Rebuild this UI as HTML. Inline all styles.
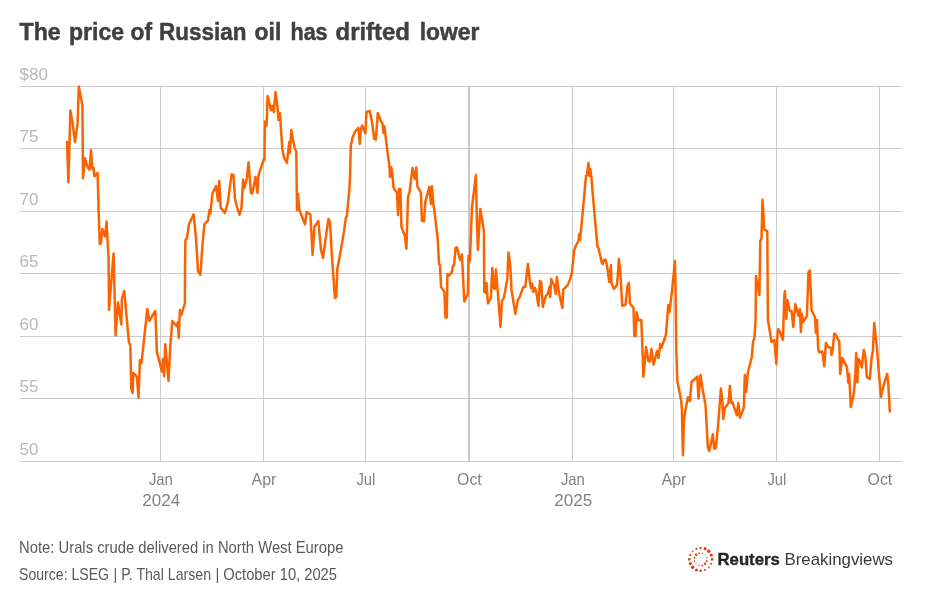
<!DOCTYPE html>
<html lang="en"><head><meta charset="utf-8"><title>The price of Russian oil has drifted lower</title>
<style>
html,body{margin:0;padding:0;background:#fff;}
body{width:926px;height:601px;overflow:hidden;position:relative;font-family:"Liberation Sans",sans-serif;}
svg{position:absolute;left:0;top:0;display:block}
text{font-family:"Liberation Sans",sans-serif;}
.t{font-weight:700;font-size:24.4px;fill:#404040;stroke:#404040;stroke-width:0.5px;}
.yl{font-size:17px;fill:#b8b8b8;}
.xl{font-size:16.5px;fill:#828282;text-anchor:middle;}
.ft{font-size:16.2px;fill:#595959;}
.g{stroke:#cccccc;stroke-width:1;shape-rendering:crispEdges;}
</style></head><body>
<svg width="926" height="601" viewBox="0 0 926 601">
<rect width="926" height="601" fill="#ffffff"/>
<text class="t" y="40"><tspan x="19.6" textLength="41" lengthAdjust="spacingAndGlyphs">The</tspan> <tspan x="69" textLength="55.0" lengthAdjust="spacingAndGlyphs">price</tspan> <tspan x="130.5" textLength="21.5" lengthAdjust="spacingAndGlyphs">of</tspan> <tspan x="159" textLength="87.4" lengthAdjust="spacingAndGlyphs">Russian</tspan> <tspan x="254.6" textLength="26.7" lengthAdjust="spacingAndGlyphs">oil</tspan> <tspan x="290.5" textLength="37.1" lengthAdjust="spacingAndGlyphs">has</tspan> <tspan x="335.5" textLength="74.5" lengthAdjust="spacingAndGlyphs">drifted</tspan> <tspan x="419.7" textLength="59.6" lengthAdjust="spacingAndGlyphs">lower</tspan></text>

<line class="g" x1="20" x2="902" y1="86.5" y2="86.5"/>
<text class="yl" x="19.6" y="80.0">$80</text>
<line class="g" x1="20" x2="902" y1="148.5" y2="148.5"/>
<text class="yl" x="19.6" y="142.0">75</text>
<line class="g" x1="20" x2="902" y1="211.5" y2="211.5"/>
<text class="yl" x="19.6" y="205.0">70</text>
<line class="g" x1="20" x2="902" y1="273.5" y2="273.5"/>
<text class="yl" x="19.6" y="267.0">65</text>
<line class="g" x1="20" x2="902" y1="336.5" y2="336.5"/>
<text class="yl" x="19.6" y="330.0">60</text>
<line class="g" x1="20" x2="902" y1="398.5" y2="398.5"/>
<text class="yl" x="19.6" y="392.0">55</text>
<line class="g" x1="20" x2="902" y1="461.5" y2="461.5"/>
<text class="yl" x="19.6" y="455.0">50</text>
<line class="g" x1="160.5" x2="160.5" y1="86" y2="462"/>
<text class="xl" x="160.9" y="484.8" textLength="23.9" lengthAdjust="spacingAndGlyphs">Jan</text>
<line class="g" x1="263.5" x2="263.5" y1="86" y2="462"/>
<text class="xl" x="263.9" y="484.8" textLength="24.8" lengthAdjust="spacingAndGlyphs">Apr</text>
<line class="g" x1="365.5" x2="365.5" y1="86" y2="462"/>
<text class="xl" x="365.9" y="484.8" textLength="18.9" lengthAdjust="spacingAndGlyphs">Jul</text>
<line x1="469" x2="469" y1="86" y2="462" stroke="#c8c8c8" stroke-width="2" shape-rendering="crispEdges"/>
<text class="xl" x="469.4" y="484.8" textLength="24.7" lengthAdjust="spacingAndGlyphs">Oct</text>
<line class="g" x1="572.5" x2="572.5" y1="86" y2="462"/>
<text class="xl" x="572.9" y="484.8" textLength="23.9" lengthAdjust="spacingAndGlyphs">Jan</text>
<line class="g" x1="673.5" x2="673.5" y1="86" y2="462"/>
<text class="xl" x="673.9" y="484.8" textLength="24.8" lengthAdjust="spacingAndGlyphs">Apr</text>
<line class="g" x1="776.5" x2="776.5" y1="86" y2="462"/>
<text class="xl" x="776.9" y="484.8" textLength="18.9" lengthAdjust="spacingAndGlyphs">Jul</text>
<line class="g" x1="879.5" x2="879.5" y1="86" y2="462"/>
<text class="xl" x="879.9" y="484.8" textLength="24.7" lengthAdjust="spacingAndGlyphs">Oct</text>
<text class="xl" x="161.2" y="505.8" textLength="37.9" lengthAdjust="spacingAndGlyphs">2024</text>
<text class="xl" x="573.2" y="505.8" textLength="37.9" lengthAdjust="spacingAndGlyphs">2025</text>
<polyline points="67.0,141.9 68.4,182.3 70.4,110.4 72.6,122.9 75.0,142.3 77.6,122.9 78.8,86.4 82.4,105.0 83.0,178.3 85.0,158.3 86.6,163.9 88.0,167.9 89.6,169.5 91.0,150.3 92.4,168.9 93.6,167.9 94.4,176.3 97.6,172.9 98.6,210.0 99.8,244.3 101.0,242.9 102.4,229.0 105.0,236.3 106.6,221.6 107.4,237.9 108.6,257.9 109.0,310.0 109.6,302.0 113.6,253.6 115.6,335.5 118.0,302.4 121.3,324.4 121.9,299.0 124.3,291.0 128.9,342.3 130.3,344.9 131.3,388.9 132.7,392.9 133.3,372.9 136.9,376.9 138.5,397.9 139.9,360.3 141.5,362.9 147.3,309.0 149.3,321.0 155.3,311.0 156.9,351.9 161.9,371.5 162.9,358.9 164.1,376.3 165.3,344.3 168.5,380.9 170.3,346.3 172.3,321.0 176.9,326.4 177.9,322.0 178.7,337.9 179.9,310.0 181.3,315.0 184.9,303.0 185.0,269.9 185.4,240.3 187.0,237.9 189.0,224.3 193.6,214.3 196.0,237.9 198.0,271.4 200.4,274.8 202.4,245.9 204.4,224.3 208.0,220.3 209.4,209.9 210.4,213.5 212.4,193.5 216.0,186.0 218.0,200.9 219.2,181.0 220.7,207.9 224.9,212.9 227.9,202.3 231.5,174.4 233.5,175.0 234.9,197.9 236.9,206.9 239.5,214.9 241.5,207.9 243.1,179.6 244.3,188.0 246.9,178.0 248.5,162.4 250.9,192.9 252.3,193.5 255.5,177.0 257.5,192.9 258.3,176.0 263.9,159.0 264.4,159.9 265.0,121.5 266.6,125.5 267.6,96.0 270.0,106.0 270.9,110.0 272.3,106.0 273.9,112.0 275.5,92.0 277.5,107.0 278.5,120.0 279.9,113.0 282.3,148.9 283.9,156.9 286.9,162.9 289.3,141.9 289.9,152.9 291.3,129.9 294.3,146.9 296.3,151.9 297.0,210.0 298.0,194.0 299.4,210.0 305.0,224.4 306.6,212.0 310.4,214.4 312.6,254.9 314.4,227.0 318.4,221.0 321.0,249.9 323.0,257.9 328.4,219.0 330.0,222.0 331.9,255.9 334.9,297.9 336.3,296.9 337.3,268.9 340.9,249.9 343.9,231.9 345.9,217.6 346.9,216.0 349.3,190.0 349.9,179.9 350.8,145.9 352.4,137.9 354.8,131.9 358.4,127.9 359.8,143.9 360.8,129.9 362.2,125.5 365.4,133.5 366.4,112.0 369.8,111.0 372.2,122.9 374.2,138.9 375.8,139.5 377.8,113.0 381.2,121.9 382.4,122.9 383.4,132.9 384.4,126.3 387.0,147.9 389.6,167.9 390.0,176.9 391.0,166.9 392.0,170.9 393.6,187.9 397.0,192.9 398.0,214.9 399.0,188.9 400.4,188.9 401.4,226.8 405.0,236.2 406.4,248.8 408.0,196.9 409.6,191.9 412.5,167.9 414.9,178.9 416.3,167.5 417.3,186.3 420.9,192.3 421.9,220.8 423.9,221.4 425.3,201.9 429.3,186.9 430.9,203.9 431.9,186.3 433.5,205.9 434.2,209.0 437.8,239.9 439.0,264.0 440.0,265.0 441.0,286.9 444.4,291.9 445.4,317.5 446.8,317.5 447.4,274.3 449.0,275.5 451.6,272.9 453.0,265.6 454.0,265.6 455.6,248.0 457.0,247.4 459.4,258.0 460.5,260.0 461.9,254.4 464.3,301.5 467.9,293.9 468.5,256.0 469.9,261.0 471.9,208.0 475.9,175.1 476.9,220.0 477.9,250.0 480.3,209.0 483.9,231.0 484.3,291.9 485.5,292.9 486.5,282.9 487.9,303.5 490.9,297.9 492.3,268.0 493.9,287.9 494.9,288.9 495.9,269.6 498.3,297.9 500.5,326.9 501.9,300.9 503.9,297.9 507.3,278.9 508.5,252.4 510.3,266.0 511.5,289.9 515.3,313.9 517.9,299.9 519.3,297.9 523.3,286.9 525.3,286.9 527.9,264.0 529.9,282.3 531.1,287.9 531.9,283.5 533.3,291.9 534.9,287.9 536.3,292.3 538.5,305.9 539.9,280.9 541.2,281.9 542.8,306.9 545.8,295.9 547.8,293.9 549.8,286.3 550.2,296.9 551.2,278.9 554.2,285.5 555.8,293.9 556.8,276.9 559.2,293.9 562.4,307.9 563.2,289.9 567.8,284.9 570.2,278.9 571.8,272.9 574.2,250.0 575.8,246.0 578.4,241.0 579.2,234.0 580.0,239.9 581.6,223.9 584.0,197.9 586.0,176.0 587.0,175.0 588.4,163.0 589.4,176.0 590.3,169.0 591.5,178.0 592.9,195.9 595.5,224.9 597.5,246.9 598.5,248.0 601.9,263.0 602.9,264.0 603.9,260.0 605.5,259.6 606.9,265.0 609.3,282.0 610.9,265.0 611.5,283.0 613.9,289.0 616.9,285.0 617.9,274.0 618.9,259.0 620.3,272.0 622.3,305.9 625.5,304.9 627.3,287.0 628.9,283.0 629.9,303.5 633.5,307.9 634.3,335.9 635.5,336.3 636.7,312.3 638.3,320.3 641.3,319.9 642.3,345.9 643.4,376.6 644.6,365.0 646.0,347.0 648.4,361.0 650.0,361.4 651.4,349.0 653.6,364.4 657.0,351.0 658.4,358.0 660.3,344.0 661.3,348.0 665.9,335.0 668.3,305.0 669.5,312.0 672.3,288.1 674.9,261.1 675.5,286.1 676.3,350.0 677.3,381.0 680.9,398.9 681.9,408.9 682.9,455.3 683.9,420.9 685.3,410.9 687.9,397.3 689.9,400.9 691.5,382.0 697.3,376.6 698.5,398.5 700.5,375.0 702.9,390.9 705.5,404.9 707.9,447.9 709.3,450.9 712.9,434.3 714.3,448.9 715.9,447.9 718.3,422.9 720.9,388.5 722.3,399.9 723.3,418.9 724.9,407.9 728.5,402.9 729.9,385.9 731.3,402.9 732.3,401.9 736.9,415.3 738.3,402.9 739.9,417.7 743.8,407.9 744.8,375.0 746.2,391.9 747.8,373.0 751.8,357.0 753.0,341.9 754.4,337.9 755.6,320.0 756.0,276.0 759.4,295.0 760.3,241.1 761.5,238.1 762.5,199.7 764.3,229.7 767.3,231.1 767.9,320.0 769.9,331.9 771.5,341.9 774.3,339.9 776.3,363.9 777.3,336.9 778.3,329.0 779.9,331.9 782.9,339.9 784.3,296.0 784.9,291.0 786.3,319.0 787.3,300.0 789.9,311.0 791.5,311.0 793.3,327.0 795.3,304.0 796.9,310.0 798.5,316.0 799.9,309.0 800.9,331.9 801.9,314.0 803.3,322.0 806.9,316.0 808.5,272.0 809.9,270.4 811.5,310.0 814.9,317.0 815.9,332.9 816.9,320.0 818.3,349.9 819.3,352.3 822.3,351.5 824.3,366.3 825.9,342.9 827.9,346.9 830.9,347.9 831.5,354.9 832.9,347.9 834.3,333.5 835.9,334.9 839.3,341.9 840.2,373.9 842.2,357.9 843.8,360.9 846.8,366.9 848.4,382.9 849.2,373.9 850.8,406.9 853.8,393.9 855.4,373.9 856.2,352.9 857.4,382.3 858.2,358.9 859.8,360.9 861.8,367.5 863.8,349.9 865.4,356.9 866.8,376.9 869.8,378.9 871.8,355.9 872.8,351.9 874.2,323.0 876.9,347.9 879.3,377.9 880.9,396.9 882.9,387.9 884.9,380.9 887.2,373.9 888.4,385.9 889.8,411.4" fill="none" stroke="#fa6400" stroke-width="2.5" stroke-linejoin="round" stroke-linecap="round"/>
<text class="ft" x="19.1" y="553" textLength="324.3" lengthAdjust="spacingAndGlyphs">Note: Urals crude delivered in North West Europe</text>
<text class="ft" y="580.3"><tspan x="19.1" textLength="89.9" lengthAdjust="spacingAndGlyphs">Source: LSEG</tspan> <tspan x="113.6" textLength="97.4" lengthAdjust="spacingAndGlyphs">| P. Thal Larsen</tspan> <tspan x="215.4" textLength="121.6" lengthAdjust="spacingAndGlyphs">| October 10, 2025</tspan></text>
<g fill="#d9440d">
<circle cx="700.63" cy="547.98" r="1.20"/>
<circle cx="705.09" cy="548.65" r="1.60"/>
<circle cx="708.75" cy="551.31" r="1.80"/>
<circle cx="711.27" cy="555.10" r="1.60"/>
<circle cx="712.07" cy="559.43" r="1.33"/>
<circle cx="711.14" cy="563.75" r="1.06"/>
<circle cx="708.81" cy="567.41" r="0.86"/>
<circle cx="704.95" cy="569.94" r="1.06"/>
<circle cx="700.63" cy="570.81" r="1.26"/>
<circle cx="696.44" cy="569.94" r="1.53"/>
<circle cx="692.65" cy="567.28" r="1.73"/>
<circle cx="690.32" cy="563.62" r="1.53"/>
<circle cx="689.32" cy="559.43" r="1.33"/>
<circle cx="690.12" cy="555.10" r="1.06"/>
<circle cx="692.65" cy="551.31" r="0.86"/>
<circle cx="696.44" cy="548.85" r="1.06"/>
<circle cx="702.43" cy="553.17" r="0.73"/>
<circle cx="705.15" cy="554.77" r="0.53"/>
<circle cx="706.82" cy="557.70" r="0.73"/>
<circle cx="706.82" cy="561.16" r="1.00"/>
<circle cx="705.09" cy="563.75" r="1.20"/>
<circle cx="702.29" cy="565.62" r="1.00"/>
<circle cx="698.97" cy="565.48" r="0.73"/>
<circle cx="696.17" cy="563.82" r="0.53"/>
<circle cx="694.51" cy="561.16" r="0.73"/>
<circle cx="694.51" cy="557.76" r="1.00"/>
<circle cx="696.17" cy="554.77" r="1.20"/>
<circle cx="699.10" cy="553.31" r="0.93"/>
</g>
<text x="717.5" y="565.4" textLength="62.3" lengthAdjust="spacingAndGlyphs" style="font-weight:700;font-size:16.7px;fill:#262626;stroke:#262626;stroke-width:0.35px">Reuters</text>
<text x="784.5" y="565.4" textLength="108.5" lengthAdjust="spacingAndGlyphs" style="font-size:16.7px;fill:#3a3a3a">Breakingviews</text>
</svg></body></html>
